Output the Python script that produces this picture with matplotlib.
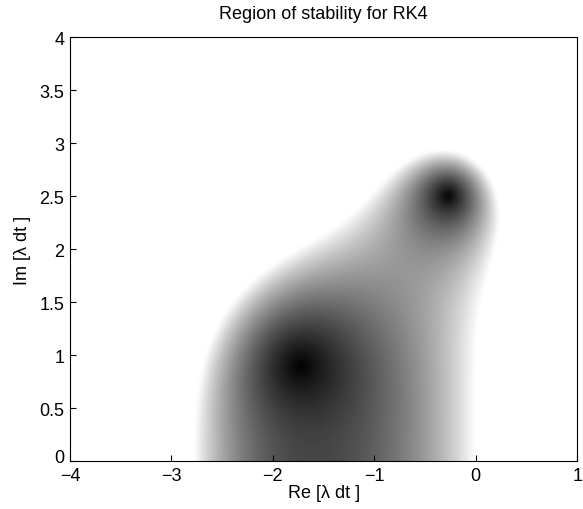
import numpy as np
import matplotlib.pyplot as plt
import matplotlib.transforms as mtransforms

# RK4 amplification factor R(z) = sum c_k z^k
rk4_coeffs = [1.0, 1.0, 1.0 / 2, 1.0 / 6, 1.0 / 24]
re_range = [-4, 1]
im_range = [0, 4]
x_ticks = [-4, -3, -2, -1, 0, 1]
x_ticklabels = ['\u22124', '\u22123', '\u22122', '\u22121', '0', '1']
y_ticks = [0, 0.5, 1, 1.5, 2, 2.5, 3, 3.5, 4]
y_ticklabels = ['0', '0.5', '1', '1.5', '2', '2.5', '3', '3.5', '4']

plt.rcParams['font.family'] = ['Liberation Sans', 'DejaVu Sans']
plt.rcParams['font.size'] = 13

re = np.linspace(re_range[0], re_range[1], 161)
im = np.linspace(im_range[0], im_range[1], 129)
X, Y = np.meshgrid(re, im)
Z = X + 1j * Y
R = np.zeros_like(Z)
for k, c in enumerate(rk4_coeffs):
    R = R + c * Z ** k
amp = np.clip(np.abs(R), 0, 1)

fig = plt.figure(figsize=(5.83, 5.10), dpi=100)
ax = fig.add_axes([0.120, 0.094, 0.870, 0.831])
ax.imshow(amp, origin='lower', cmap='gray', vmin=0, vmax=1,
          extent=[re_range[0], re_range[1], im_range[0], im_range[1]],
          aspect='auto', interpolation='bicubic')
ax.set_xlim(re_range)
ax.set_ylim(im_range)
ax.set_xticks(x_ticks)
ax.set_xticklabels(x_ticklabels)
ax.set_yticks(y_ticks)
ax.set_yticklabels(y_ticklabels)
ax.tick_params(direction='in', length=4, pad=4)
ax.tick_params(axis='x', pad=4)
# lift the "0" on the y axis a little so it clears the "-4" below it
lbl0 = ax.get_yticklabels()[0]
lbl0.set_transform(lbl0.get_transform() +
                   mtransforms.ScaledTranslation(0, 4 / 72, fig.dpi_scale_trans))
ax.set_xlabel('Re [\u03bb dt ]', labelpad=0)
ax.set_ylabel('Im [\u03bb dt ]', labelpad=6)
ax.set_title('Region of stability for RK4', fontsize=13, pad=14)

fig.savefig('out.png', dpi=100)
